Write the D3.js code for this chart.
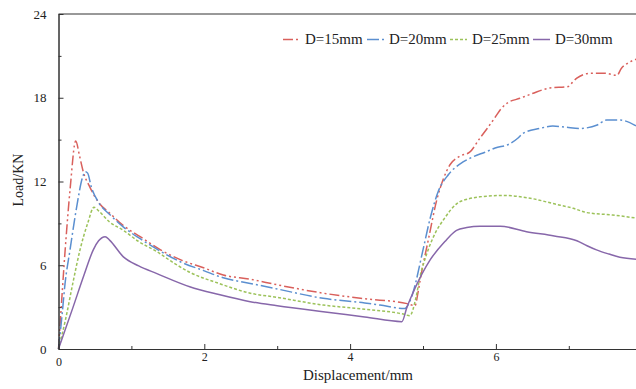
<!DOCTYPE html>
<html>
<head>
<meta charset="utf-8">
<script src="https://cdn.jsdelivr.net/npm/d3@7"></script>
<style>
  body { margin: 0; background: #fff; }
  svg { display: block; }
</style>
</head>
<body>
<div id="chart"></div>
<script>
// data (displacement in mm, load in kN)
const seriesNames = ['D=15mm', 'D=20mm', 'D=25mm', 'D=30mm'];

const d15x = [0, 0.02, 0.09, 0.16, 0.236, 0.29, 0.34, 0.43, 0.55, 0.71, 0.9, 1.12, 1.4, 1.67, 2.0, 2.26, 2.63, 3.0, 3.63, 4.2, 4.78, 4.89, 4.93, 4.96, 5.08, 5.19, 5.28, 5.37, 5.5, 5.64, 5.78, 5.88, 5.99, 6.07, 6.15, 6.33, 6.5, 6.74, 6.99, 7.05, 7.11, 7.29, 7.5, 7.66, 7.72, 7.8, 7.95];
const d15y = [0, 1.6, 7.0, 11.5, 14.9, 13.8, 12.7, 11.6, 10.5, 9.7, 8.8, 8.05, 7.1, 6.4, 5.8, 5.3, 5.0, 4.6, 4.0, 3.6, 3.25, 3.1, 4.0, 4.9, 8.0, 10.7, 12.2, 13.2, 13.8, 14.1, 15.1, 15.8, 16.6, 17.2, 17.6, 17.96, 18.3, 18.7, 18.8, 19.1, 19.4, 19.75, 19.75, 19.6, 20.1, 20.45, 20.8];

const d20x = [0, 0.05, 0.09, 0.158, 0.25, 0.33, 0.37, 0.4, 0.45, 0.55, 0.71, 0.9, 1.12, 1.4, 1.67, 2.0, 2.26, 2.63, 3.0, 3.63, 4.2, 4.41, 4.75, 4.8, 4.86, 5.0, 5.1, 5.21, 5.35, 5.55, 5.7, 5.85, 5.99, 6.19, 6.3, 6.37, 6.6, 6.78, 6.95, 7.15, 7.39, 7.52, 7.7, 7.95];
const d20y = [0, 2.5, 4.7, 7.1, 10.2, 12.3, 12.7, 12.6, 11.6, 10.5, 9.6, 8.7, 7.9, 7.0, 6.25, 5.6, 5.1, 4.7, 4.3, 3.63, 3.3, 3.15, 2.9, 3.2, 4.0, 7.1, 9.4, 11.3, 12.5, 13.4, 13.8, 14.1, 14.4, 14.7, 15.1, 15.45, 15.8, 15.97, 15.9, 15.8, 16.05, 16.4, 16.4, 15.9];

const d25x = [0, 0.1, 0.2, 0.295, 0.4, 0.487, 0.55, 0.7, 0.89, 1.1, 1.35, 1.6, 1.8, 2.2, 2.63, 3.0, 3.63, 4.2, 4.73, 4.82, 4.9, 4.96, 5.05, 5.14, 5.3, 5.46, 5.62, 5.78, 6.1, 6.47, 6.8, 7.06, 7.25, 7.6, 7.95];
const d25y = [0, 2.2, 4.8, 7.1, 9.0, 10.15, 9.9, 9.1, 8.5, 7.7, 6.97, 6.1, 5.5, 4.7, 4.0, 3.7, 3.15, 2.85, 2.5, 2.39, 3.6, 5.2, 6.8, 8.0, 9.4, 10.4, 10.75, 10.9, 11.0, 10.8, 10.4, 10.08, 9.77, 9.6, 9.36];

const d30x = [0, 0.2, 0.35, 0.477, 0.55, 0.64, 0.7, 0.89, 1.1, 1.35, 1.8, 2.2, 2.63, 3.0, 3.63, 4.2, 4.71, 4.78, 4.86, 5.1, 5.3, 5.46, 5.6, 5.78, 6.06, 6.42, 6.8, 7.11, 7.25, 7.38, 7.55, 7.7, 7.95];
const d30y = [0, 3.0, 5.3, 7.1, 7.75, 8.05, 7.8, 6.6, 5.95, 5.4, 4.46, 3.9, 3.39, 3.1, 2.67, 2.3, 1.96, 3.0, 4.0, 6.4, 7.7, 8.5, 8.7, 8.8, 8.8, 8.4, 8.1, 7.76, 7.4, 7.1, 6.8, 6.57, 6.43];

const xTicks = [0, 2, 4, 6];
const xMinor = [1, 3, 5, 7];
const yTicks = [0, 6, 12, 18, 24];
const yMinor = [3, 9, 15, 21];

const colors = ['#d9605c', '#5b8fd0', '#9cc25a', '#8767aa'];
const dashes = ['10,3,2,3,2,3', '12,3,2,3', '3,2', null];

const W = 636, H = 389;
const plotLeft = 58.5, plotTop = 14, plotBottom = 349, xPerUnit = 72.9;

const svg = d3.select('#chart').append('svg')
  .attr('width', W).attr('height', H);

const x = d3.scaleLinear().domain([0, 8]).range([plotLeft, plotLeft + 8 * xPerUnit]);
const y = d3.scaleLinear().domain([0, 24]).range([plotBottom, plotTop]);

const series = [[d15x, d15y], [d20x, d20y], [d25x, d25y], [d30x, d30y]]
  .map(([xs, ys]) => xs.map((v, i) => [v, ys[i]]));

const line = d3.line()
  .x(d => x(d[0]))
  .y(d => y(d[1]))
  .curve(d3.curveMonotoneX);

series.forEach((pts, i) => {
  svg.append('path')
    .datum(pts)
    .attr('d', line)
    .attr('fill', 'none')
    .attr('stroke', colors[i])
    .attr('stroke-width', 1.5)
    .attr('stroke-dasharray', dashes[i]);
});

// axes with ticks pointing inwards
const axisFont = 'Liberation Serif, Times New Roman, serif';
const xAxis = svg.append('g')
  .attr('transform', `translate(0,${plotBottom})`)
  .call(d3.axisBottom(x).tickValues(xTicks).tickSizeInner(-5).tickSizeOuter(0).tickPadding(3));
svg.append('g')
  .attr('transform', `translate(0,${plotBottom})`)
  .call(d3.axisBottom(x).tickValues(xMinor).tickSizeInner(-3).tickSizeOuter(0).tickFormat(''));
svg.append('g')
  .attr('transform', `translate(${plotLeft},0)`)
  .call(d3.axisLeft(y).tickValues(yTicks).tickSizeInner(-5).tickSizeOuter(0).tickPadding(12));
svg.append('g')
  .attr('transform', `translate(${plotLeft},0)`)
  .call(d3.axisLeft(y).tickValues(yMinor).tickSizeInner(-3).tickSizeOuter(0).tickFormat(''));
svg.append('line')
  .attr('x1', plotLeft).attr('x2', x(8))
  .attr('y1', plotTop).attr('y2', plotTop)
  .attr('stroke', '#333');

svg.selectAll('.domain').attr('stroke', '#333');
svg.selectAll('.tick line').attr('stroke', '#333');
svg.selectAll('.tick text')
  .attr('font-family', axisFont)
  .attr('font-size', 13)
  .attr('fill', '#222');
xAxis.selectAll('.tick text').attr('font-size', 12);
// the zero under the x axis sits a little lower in the original
xAxis.selectAll('.tick text').filter(d => d === 0).attr('dy', '1.2em');

svg.append('text')
  .attr('x', 358).attr('y', 380)
  .attr('text-anchor', 'middle')
  .attr('font-family', axisFont).attr('font-size', 15)
  .attr('fill', '#222')
  .text('Displacement/mm');

svg.append('text')
  .attr('transform', 'translate(23,180) rotate(-90)')
  .attr('text-anchor', 'middle')
  .attr('font-family', axisFont).attr('font-size', 14)
  .attr('fill', '#222')
  .text('Load/KN');

// legend
const legendX = [283, 367, 450, 533];
const legend = svg.append('g');
seriesNames.forEach((name, i) => {
  legend.append('line')
    .attr('x1', legendX[i]).attr('x2', legendX[i] + 17)
    .attr('y1', 39.5).attr('y2', 39.5)
    .attr('stroke', colors[i]).attr('stroke-width', 1.5)
    .attr('stroke-dasharray', dashes[i]);
  legend.append('text')
    .attr('x', legendX[i] + 22).attr('y', 44)
    .attr('font-family', axisFont).attr('font-size', 15)
    .attr('fill', '#222')
    .text(name);
});
</script>
</body>
</html>
